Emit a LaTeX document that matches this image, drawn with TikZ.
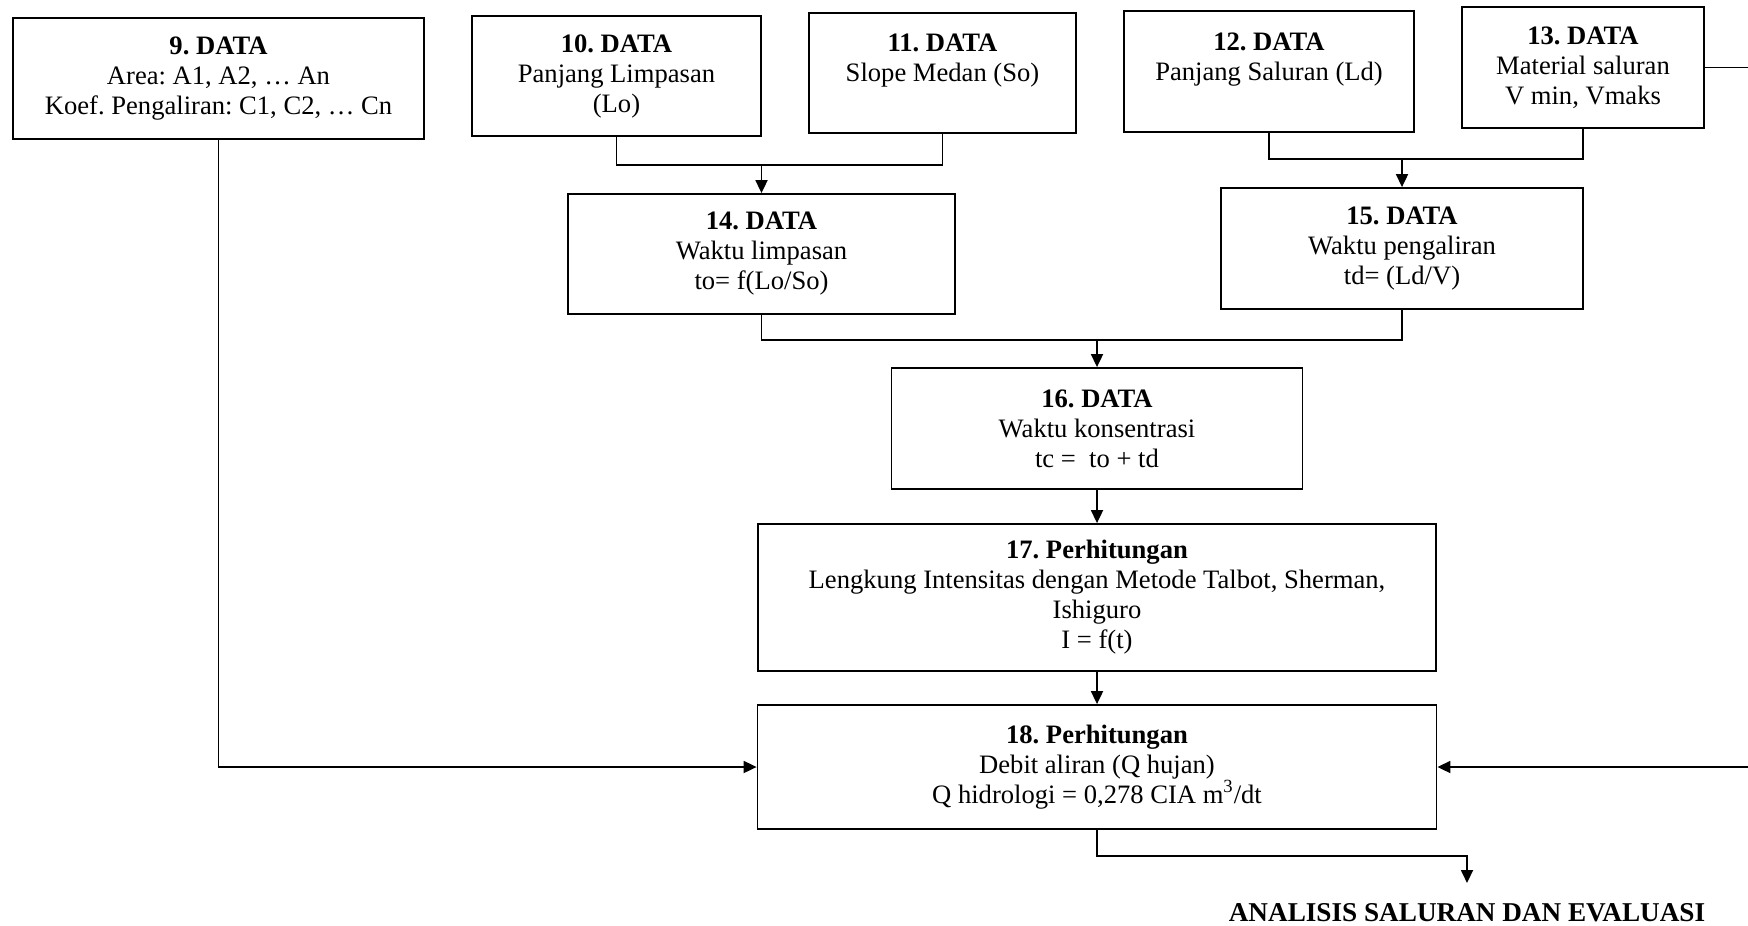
\documentclass[tikz,border=0pt]{standalone}
\usepackage{fontspec}
\setmainfont{Liberation Serif}
\usetikzlibrary{arrows.meta}
\frenchspacing

\begin{document}
\begin{tikzpicture}[x=0.5pt,y=-0.5pt,line width=0.9pt,
    >={Triangle[length=6.5pt,width=6pt]},
    box/.style={draw,align=center,inner sep=0pt,font=\fontsize{13.3}{15}\selectfont}]
\clip (0,0) rectangle (1748,925);
\draw
    node [box,minimum width=205.5pt,minimum height=60.5pt] (data9) at (218.5,78.5)
    {\textbf{9. DATA}\\Area: A1, A2, … An\\Koef. Pengaliran: C1, C2, … Cn}
    node [box,minimum width=144.5pt,minimum height=60pt] (data10) at (616.5,76)
    {\textbf{10. DATA}\\Panjang Limpasan\\(Lo)}
    node [box,minimum width=133.5pt,minimum height=60pt] (data11) at (942.5,73)
    {\textbf{11. DATA}\\Slope Medan (So)\\~}
    node [box,minimum width=145pt,minimum height=60.5pt] (data12) at (1269,71.5)
    {\textbf{12. DATA}\\Panjang Saluran (Ld)\\~}
    node [box,minimum width=121pt,minimum height=60.5pt] (data13) at (1583,67.5)
    {\textbf{13. DATA}\\Material saluran\\V min, Vmaks};
\draw
    node [box,minimum width=193.5pt,minimum height=60pt] (data14) at (761.5,254)
    {\textbf{14. DATA}\\Waktu limpasan\\to= f(Lo/So)}
    node [box,minimum width=181pt,minimum height=60.5pt] (data15) at (1402,248.5)
    {\textbf{15. DATA}\\Waktu pengaliran\\td= (Ld/V)}
    node [box,minimum width=205.5pt,minimum height=60.5pt] (data16) at (1097,428.5)
    {\textbf{16. DATA}\\Waktu konsentrasi\\tc = \ to + td}
    node [box,minimum width=339pt,minimum height=73.5pt] (hitung17) at (1097,597.5)
    {\textbf{17. Perhitungan}\\Lengkung Intensitas dengan Metode Talbot, Sherman,\\Ishiguro\\I = f(t)}
    node [box,minimum width=339.5pt,minimum height=62pt] (hitung18) at (1097,767)
    {\textbf{18. Perhitungan}\\Debit aliran (Q hujan)\\Q hidrologi = 0,278 CIA m\textsuperscript{3}/dt};
\node [anchor=north,inner xsep=0pt,inner ysep=10pt,font=\fontsize{13.6}{15}\selectfont\bfseries]
    (hasil) at (1467,883) {ANALISIS SALURAN DAN EVALUASI};
\coordinate (m14) at (761.5,165);
\coordinate (m15) at (1402,159);
\coordinate (m16) at (1097,340);
\coordinate (m19) at (1467,856);
\coordinate (kanan) at (1770,0);
\draw (data10.south) |- (m14) -| (data11.south);
\draw [->] (m14) -- (data14.north);
\draw (data12.south) |- (m15) -| (data13.south);
\draw [->] (m15) -- (data15.north);
\draw (data14.south) |- (m16) -| (data15.south);
\draw [->] (m16) -- (data16.north);
\draw [->] (data16.south) -- (hitung17.north);
\draw [->] (hitung17.south) -- (hitung18.north);
\draw [->] (data9.south) |- (hitung18.west);
\draw [->] (data13.east) -- (data13.east -| kanan) -- (hitung18.east -| kanan) -- (hitung18.east);
\draw [->] (hitung18.south) |- (m19) -- (hasil.north);
\end{tikzpicture}
\end{document}
